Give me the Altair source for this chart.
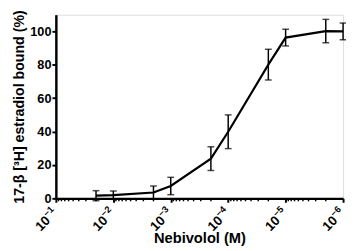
import altair as alt
import pandas as pd

conc = [2e-2, 1e-2, 2e-3, 1e-3, 2e-4, 1e-4, 2e-5, 1e-5, 2e-6, 1e-6]
bound = [1.6, 1.9, 3.5, 7.4, 23.8, 39.9, 80.1, 96.3, 100.2, 100.0]
err = [3.0, 2.5, 3.9, 5.2, 7.1, 10.1, 9.2, 5.0, 7.0, 5.0]
major = [1e-1, 1e-2, 1e-3, 1e-4, 1e-5, 1e-6]
major_base = ["10"] * 6
major_exp = ["−1", "−2", "−3", "−4", "−5", "−6"]
yticks = [0, 20, 40, 60, 80, 100]
minor = [m * 10.0 ** e for e in [-2, -3, -4, -5, -6] for m in range(2, 10)]

df = pd.DataFrame({"x": conc, "y": bound,
                   "lo": [b - e for b, e in zip(bound, err)],
                   "hi": [b + e for b, e in zip(bound, err)]})
mdf = pd.DataFrame({"x": minor})
ldf = pd.DataFrame({"x": major, "base": major_base, "exp": major_exp})

FONT = "Liberation Sans"
xscale = alt.Scale(type="log", domain=[1e-6, 1e-1], reverse=True)
yscale = alt.Scale(domain=[0, 110])

xax = alt.Axis(values=major, title="Nebivolol (M)", labels=False,
               grid=False, domainWidth=2.5, tickWidth=2, tickSize=4,
               titleFontSize=15, titleFontWeight="bold", titleFont=FONT, titlePadding=28,
               domainColor="black", tickColor="black", titleColor="black")
yax = alt.Axis(values=yticks, title="17-β [³H] estradiol bound (%)",
               grid=False, domainWidth=2.5, tickWidth=2, tickSize=4, labelOverlap=False,
               labelFontSize=13, labelFontWeight="bold", labelFont=FONT,
               titleFontSize=14.5, titleFontWeight="bold", titleFont=FONT, titlePadding=3,
               labelPadding=1,
               domainColor="black", tickColor="black", labelColor="black", titleColor="black")

X = alt.X("x:Q", scale=xscale, axis=xax, title="Nebivolol (M)")
def Y(f):
    return alt.Y(f, scale=yscale, axis=yax, title="17-β [³H] estradiol bound (%)")

base = alt.Chart(df)
line = base.mark_line(color="black", strokeWidth=2.2, interpolate="linear").encode(
    x=X, y=Y("y:Q"))
bars = base.mark_rule(color="black", strokeWidth=1.5).encode(
    x=X, y=Y("lo:Q"), y2="hi:Q")
caps_lo = base.mark_tick(color="black", orient="horizontal", size=7, thickness=1.5).encode(
    x=X, y=Y("lo:Q"))
caps_hi = base.mark_tick(color="black", orient="horizontal", size=7, thickness=1.5).encode(
    x=X, y=Y("hi:Q"))
minors = alt.Chart(mdf).mark_rule(color="black", strokeWidth=1.5).encode(
    x=X, y=alt.value(188), y2=alt.value(191))

lab_base = alt.Chart(ldf).mark_text(angle=315, align="right", baseline="middle", dx=-11,
                                    font=FONT, fontSize=13.5, fontWeight="bold", color="black").encode(
    x=X, y=alt.value(201), text="base:N")
lab_exp = alt.Chart(ldf).mark_text(angle=315, align="left", baseline="middle", dx=-11, dy=-5,
                                   font=FONT, fontSize=9.5, fontWeight="bold", color="black").encode(
    x=X, y=alt.value(201), text="exp:N")

chart = alt.layer(line, bars, caps_lo, caps_hi, minors, lab_base, lab_exp).properties(
    width=294, height=188,
    autosize=alt.AutoSizeParams(type="none"),
    padding={"left": 49, "top": 4, "right": 3, "bottom": 50},
).configure_view(stroke=None).configure(background="white")

chart.save("out.html", embed_options={"renderer": "svg", "actions": False})
